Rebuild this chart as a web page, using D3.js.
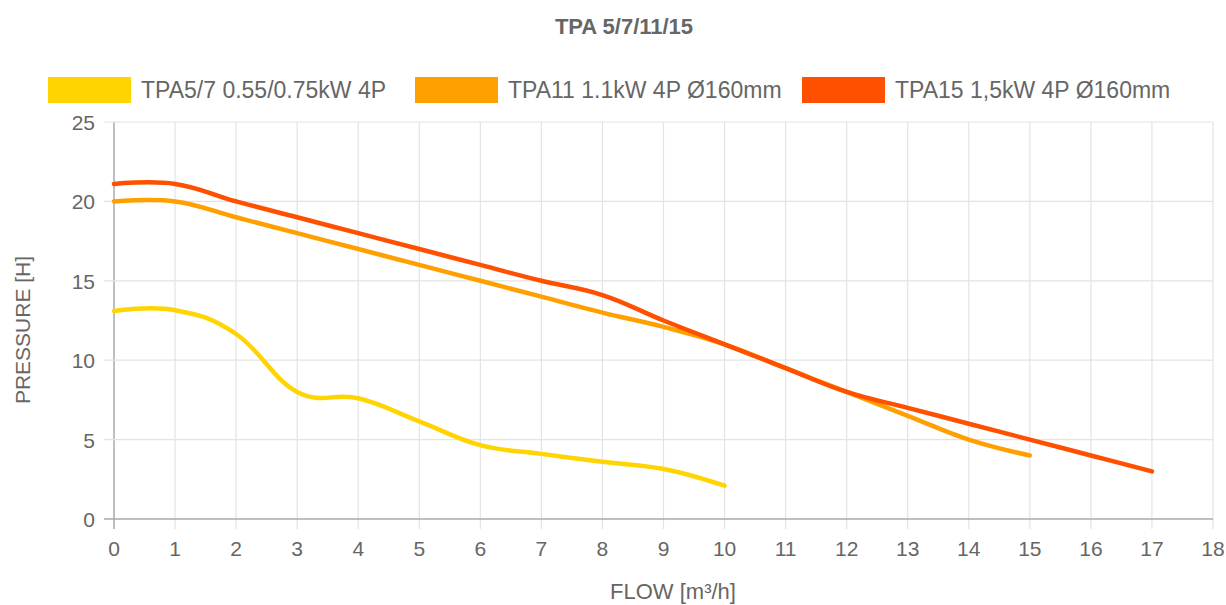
<!DOCTYPE html>
<html><head><meta charset="utf-8">
<script src="https://cdn.jsdelivr.net/npm/d3@7"></script>
<style>body{margin:0;background:#fff;font-family:"Liberation Sans",Arial,Helvetica,sans-serif}</style>
</head><body><svg id="c" width="1226" height="605"></svg>
<script>
const title = "TPA 5/7/11/15";
const xTicks = [0,1,2,3,4,5,6,7,8,9,10,11,12,13,14,15,16,17,18];
const yTicks = [0,5,10,15,20,25];
const seriesNames = ["TPA5/7 0.55/0.75kW 4P","TPA11 1.1kW 4P Ø160mm","TPA15 1,5kW 4P Ø160mm"];
const seriesColors = ["#ffd400","#ffa000","#ff5000"];
const tpa57 = [13.1,13.15,11.65,8.0,7.6,6.15,4.65,4.1,3.6,3.15,2.1];
const tpa11 = [20,20,19,18,17,16,15,14,13,12.1,11,9.5,8,6.5,5,4];
const tpa15 = [21.1,21.1,20,19,18,17,16,15,14.1,12.5,11,9.5,8,7,6,5,4,3];
const xTitle = "FLOW [m³/h]", yTitle = "PRESSURE [H]";

const svg = d3.select("#c");
const L=114, R=1213, T=122, B=519;
const x = d3.scaleLinear().domain([0,18]).range([L,R]);
const y = d3.scaleLinear().domain([0,25]).range([B,T]);
const txt="#666";

svg.append("text").attr("x",624).attr("y",34).attr("text-anchor","middle")
  .attr("font-size",22).attr("font-weight","bold").attr("fill",txt).text(title);

// legend
const legX=[48,415,802];
seriesNames.forEach((n,i)=>{
  svg.append("rect").attr("x",legX[i]).attr("y",77).attr("width",83).attr("height",26).attr("fill",seriesColors[i]);
  svg.append("text").attr("x",legX[i]+93).attr("y",98).attr("font-size",23).attr("fill",txt).text(n);
});

// grid
const g = svg.append("g");
xTicks.forEach(t=>{
  g.append("line").attr("x1",x(t)).attr("x2",x(t)).attr("y1",T).attr("y2",B+10)
   .attr("stroke", t===0?"#aaa":"#e3e3e3").attr("stroke-width",t===0?1.5:1.2);
  g.append("text").attr("x",x(t)).attr("y",B+37).attr("text-anchor","middle").attr("font-size",21).attr("fill",txt).text(t);
});
yTicks.forEach(t=>{
  g.append("line").attr("x1",L-10).attr("x2",R).attr("y1",y(t)).attr("y2",y(t))
   .attr("stroke", t===0?"#aaa":"#e3e3e3").attr("stroke-width",t===0?1.5:1.2);
  g.append("text").attr("x",L-19).attr("y",y(t)+8).attr("text-anchor","end").attr("font-size",21).attr("fill",txt).text(t);
});

svg.append("text").attr("transform","translate(30,330) rotate(-90)").attr("text-anchor","middle")
  .attr("font-size",21).attr("fill",txt).text(yTitle);
svg.append("text").attr("x",673).attr("y",599).attr("text-anchor","middle")
  .attr("font-size",22).attr("fill",txt).text(xTitle);

const line = d3.line().x((d,i)=>x(i)).y(d=>y(d)).curve(d3.curveCardinal.tension(-0.2));
[tpa57,tpa11,tpa15].forEach((s,i)=>{
  svg.append("path").attr("d",line(s)).attr("fill","none").attr("stroke",seriesColors[i])
    .attr("stroke-width",4.5).attr("stroke-linecap","round").attr("stroke-linejoin","round");
});
</script></body></html>
